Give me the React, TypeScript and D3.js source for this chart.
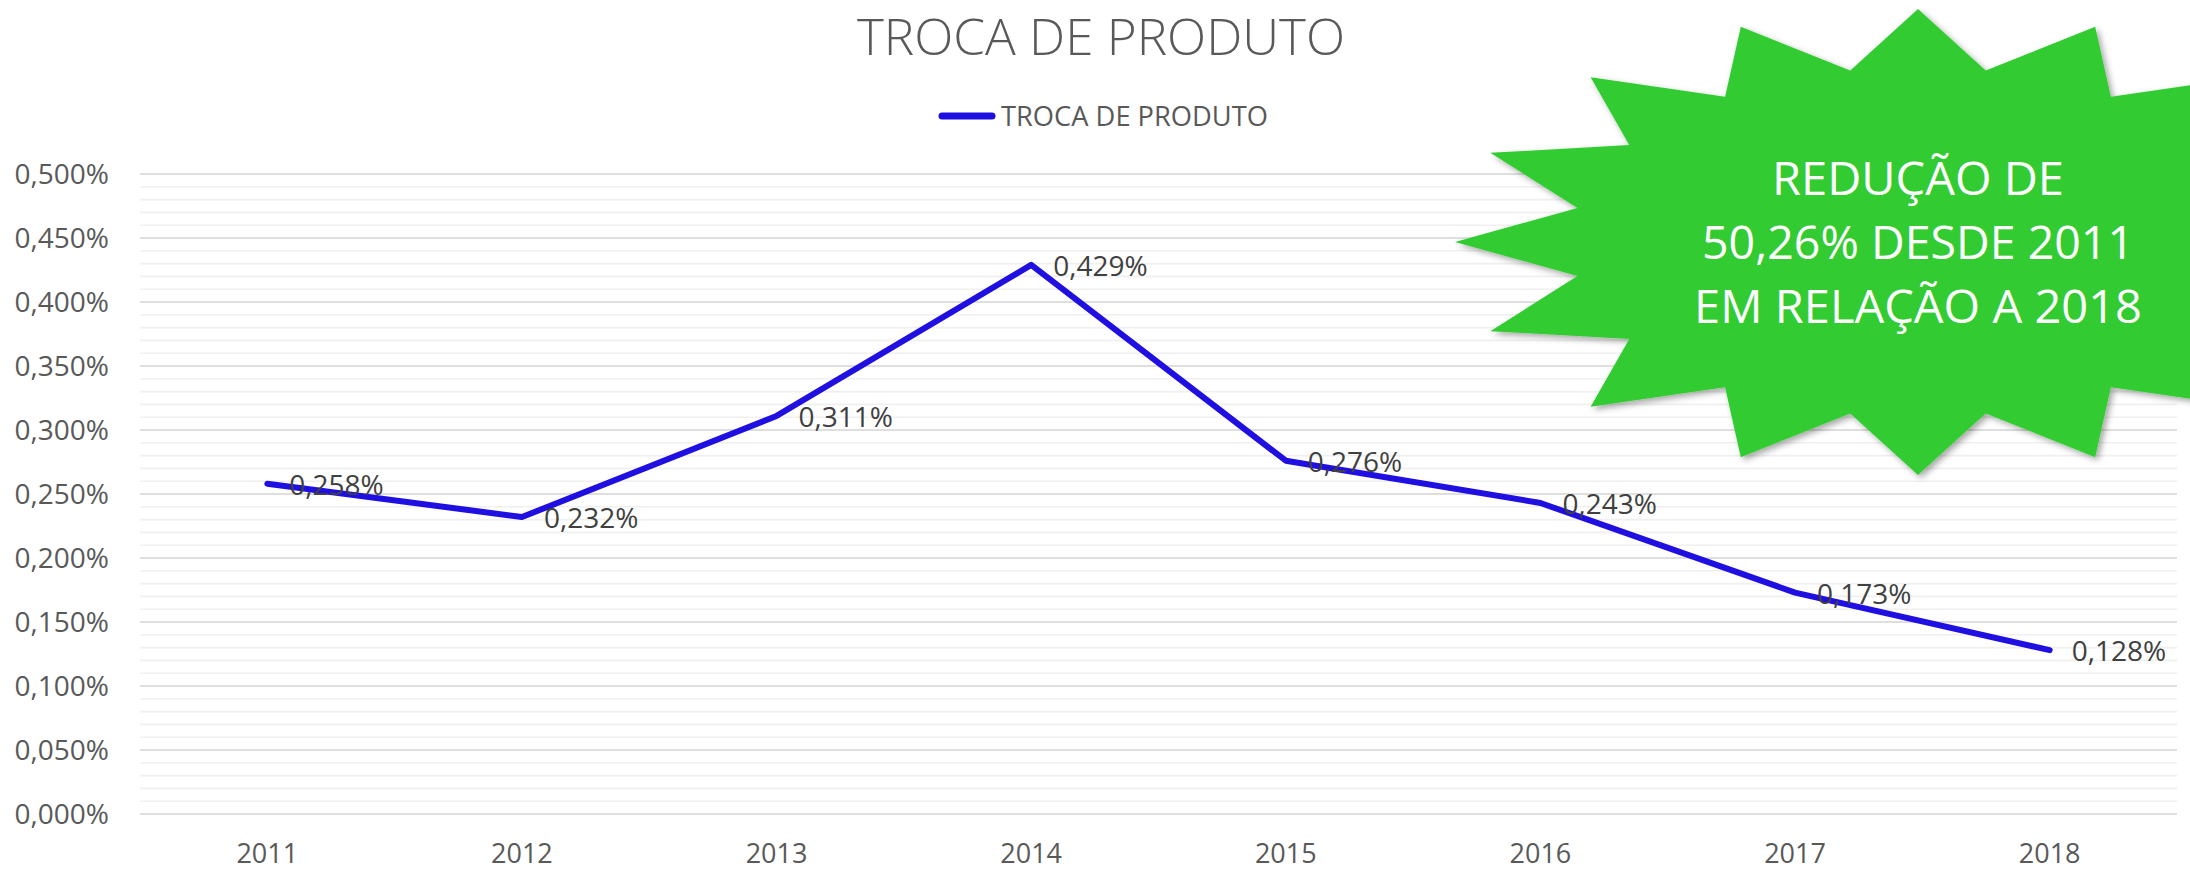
import React from "react";
import * as d3 from "d3";

const years = ["2011", "2012", "2013", "2014", "2015", "2016", "2017", "2018"];
const values = [0.258, 0.232, 0.311, 0.429, 0.276, 0.243, 0.173, 0.128];
const yMajorTicks = [0, 0.05, 0.1, 0.15, 0.2, 0.25, 0.3, 0.35, 0.4, 0.45, 0.5];
const seriesName = "TROCA DE PRODUTO";
const titleText = "TROCA DE PRODUTO";
const calloutLines = ["REDUÇÃO DE", "50,26% DESDE 2011", "EM RELAÇÃO A 2018"];

const W = 2190;
const H = 870;
const FONT = "'Open Sans', 'Noto Sans', sans-serif";

const locale = d3.formatLocale({ decimal: ",", thousands: ".", grouping: [3], currency: ["R$", ""] });
const fmt3 = locale.format(".3f");

export default function App() {
  const x = d3.scaleBand<string>().domain(years).range([140, 2177]).padding(0);
  const cx = (yr: string) => (x(yr) as number) + x.bandwidth() / 2;
  const y = d3.scaleLinear().domain([0, 0.5]).range([814, 174]);

  const minorTicks = y.ticks(50);
  const pts = years.map((yr, i) => [cx(yr), y(values[i])] as [number, number]);
  const line = d3.line<[number, number]>()(pts) as string;

  // starburst shape (callout)
  const sCx = 1918, sCy = 242, sRx = 463, sRy = 233, inner = 0.75, nPts = 16;
  const starPts = d3.range(nPts * 2).map((k) => {
    const a = (k * Math.PI) / nPts - Math.PI / 2;
    const r = k % 2 === 0 ? 1 : inner;
    return [sCx + Math.cos(a) * sRx * r, sCy + Math.sin(a) * sRy * r] as [number, number];
  });
  const starPath = d3.line<[number, number]>()(starPts) + "Z";

  const calloutBaselines = [195, 259, 323];
  const calloutWidths = [292, 432, 448];

  return (
    <svg width={W} height={H} style={{ position: "absolute", left: 0, top: 0, background: "#fff" }}>
      <defs>
        <filter id="shadow" x="-10%" y="-10%" width="130%" height="130%">
          <feDropShadow dx="3" dy="3" stdDeviation="3" floodColor="#000" floodOpacity="0.35" />
        </filter>
      </defs>
      <rect x={0} y={0} width={W} height={H} fill="#fff" />
      {/* minor gridlines */}
      {minorTicks.map((t, i) => (
        <line key={"m" + i} x1={140} x2={2177} y1={y(t)} y2={y(t)} stroke="#f0f0f0" strokeWidth={1.6} />
      ))}
      {/* major gridlines */}
      {yMajorTicks.map((t, i) => (
        <line key={"M" + i} x1={140} x2={2177} y1={y(t)} y2={y(t)} stroke="#d9d9d9" strokeWidth={1.6} />
      ))}
      {/* y labels */}
      {yMajorTicks.map((t, i) => (
        <text key={"yl" + i} x={109} y={y(t) + 10} textAnchor="end" fontFamily={FONT} fontSize={28} fill="#595959">
          {fmt3(t) + "%"}
        </text>
      ))}
      {/* x labels */}
      {years.map((yr) => (
        <text key={"xl" + yr} x={cx(yr)} y={863} textAnchor="middle" fontFamily={FONT} fontSize={27} fill="#595959">
          {yr}
        </text>
      ))}
      {/* title */}
      <text x={857} y={55} fontFamily={FONT} fontWeight={300} fontSize={50} fill="#595959" textLength={488} lengthAdjust="spacingAndGlyphs">
        {titleText}
      </text>
      {/* legend */}
      <line x1={942} x2={992} y1={116} y2={116} stroke="#1f0fe0" strokeWidth={7} strokeLinecap="round" />
      <text x={1001} y={126} fontFamily={FONT} fontSize={28} fill="#595959" textLength={267} lengthAdjust="spacingAndGlyphs">
        {seriesName}
      </text>
      {/* series line */}
      <path d={line} fill="none" stroke="#1f0fe0" strokeWidth={6} strokeLinejoin="round" strokeLinecap="round" />
      {/* data labels */}
      {pts.map((p, i) => (
        <text key={"dl" + i} x={p[0] + 22} y={p[1] + 11} fontFamily={FONT} fontSize={28} fill="#404040">
          {fmt3(values[i]) + "%"}
        </text>
      ))}
      {/* callout starburst */}
      <path d={starPath} fill="#33cc33" filter="url(#shadow)" />
      {calloutLines.map((t, i) => (
        <text key={"c" + i} x={sCx} y={calloutBaselines[i]} textAnchor="middle" fontFamily={FONT} fontSize={46} fill="#ffffff" textLength={calloutWidths[i]} lengthAdjust="spacingAndGlyphs">
          {t}
        </text>
      ))}
    </svg>
  );
}
